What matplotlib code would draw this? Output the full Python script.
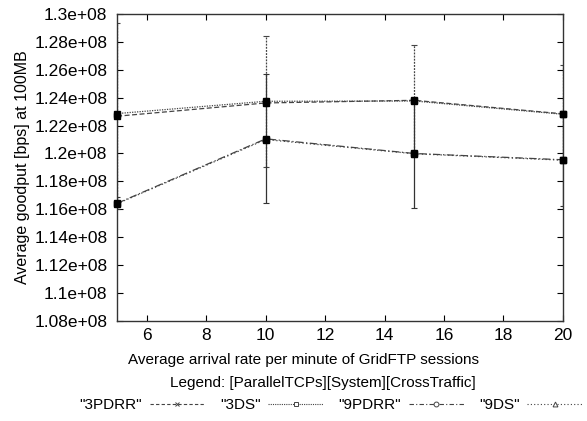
import matplotlib
matplotlib.use("Agg")
import matplotlib.pyplot as plt
from matplotlib.lines import Line2D
from matplotlib.ticker import FuncFormatter, MultipleLocator

plt.rcParams["font.family"] = ["Liberation Sans", "DejaVu Sans"]
plt.rcParams["font.size"] = 11

# arrival rate per minute
rates = [5, 10, 15, 20]

# goodput values (bps)
pdrr3 = [1.2267e8, 1.2362e8, 1.2381e8, 1.2284e8]
ds3 = [1.2286e8, 1.2374e8, 1.2376e8, 1.2281e8]
pdrr9 = [1.1643e8, 1.2105e8, 1.2000e8, 1.1955e8]
ds9 = [1.1640e8, 1.2100e8, 1.1998e8, 1.1952e8]

# error half-widths
ds3_err = [0.065e8, 0.0468e8, 0.0403e8, 0.035e8]
pdrr9_err = [0.0043e8, 0.0462e8, 0.039e8, 0.0331e8]

labels = ['"3PDRR"', '"3DS"', '"9PDRR"', '"9DS"']

fig = plt.figure(figsize=(5.87, 4.21), dpi=100)
ax = fig.add_axes([0.1995, 0.2375, 0.7595, 0.7295])

gray = "#444444"
ax.plot(rates, pdrr3, color=gray, lw=0.9, ls=(0, (4, 2)))
ax.plot(rates, ds3, color=gray, lw=0.9, ls=(0, (1, 1)))
ax.plot(rates, pdrr9, color=gray, lw=0.9, ls=(0, (6, 2, 1, 2)))
ax.plot(rates, ds9, color=gray, lw=0.9, ls=(0, (1, 2)))

e1 = ax.errorbar(rates, ds3, yerr=ds3_err, fmt="none", ecolor=gray, elinewidth=0.9,
                 capsize=2.5, capthick=0.8)
e1[2][0].set_linestyle((0, (1.5, 1)))
ax.errorbar(rates, pdrr9, yerr=pdrr9_err, fmt="none", ecolor="#333333", elinewidth=0.9,
            capsize=2.5, capthick=0.8)

for s in [pdrr3, ds3, pdrr9, ds9]:
    ax.plot(rates, s, ls="none", marker="s", ms=5, color="black", clip_on=False, zorder=5)

ax.set_xlim(5, 20)
ax.set_ylim(1.08e8, 1.3e8)
ax.xaxis.set_major_locator(MultipleLocator(2))
ax.yaxis.set_major_locator(MultipleLocator(0.02e8))
ax.yaxis.set_major_formatter(FuncFormatter(lambda v, p: "%g" % v))
ax.tick_params(direction="in", top=True, right=True, length=4, width=0.8, labelsize=12.5,
               pad=7)
ax.tick_params(axis="x", pad=5)
for sp in ax.spines.values():
    sp.set_linewidth(1.0)
    sp.set_color("#333333")

fig.text(0.038, 1 - 167 / 421, "Average goodput [bps] at 100MB", rotation=90,
         ha="center", va="center", fontsize=11.5)
fig.text(303 / 587, 1 - 360 / 421, "Average arrival rate per minute of GridFTP sessions",
         ha="center", va="center", fontsize=11)
fig.text(323 / 587, 1 - 383 / 421, "Legend: [ParallelTCPs][System][CrossTraffic]",
         ha="center", va="center", fontsize=11)

handles = [
    Line2D([], [], color=gray, lw=0.8, ls=(0, (3, 2)), marker="x", ms=3.5, mew=0.7),
    Line2D([], [], color=gray, lw=0.8, ls=(0, (1, 1)), marker="s", ms=3.5, mfc="white", mew=0.7),
    Line2D([], [], color=gray, lw=0.8, ls=(0, (4, 2, 1, 2)), marker="o", ms=3.5, mfc="white", mew=0.7),
    Line2D([], [], color=gray, lw=0.8, ls=(0, (1, 2)), marker="^", ms=3.5, mfc="white", mew=0.7),
]
fig.legend(handles, labels, loc="center", bbox_to_anchor=(331 / 587, 1 - 405 / 421), ncol=4,
           frameon=False, markerfirst=False, handlelength=3.6, columnspacing=1.0,
           handletextpad=0.5, fontsize=11)

fig.savefig("out.png", dpi=100)
